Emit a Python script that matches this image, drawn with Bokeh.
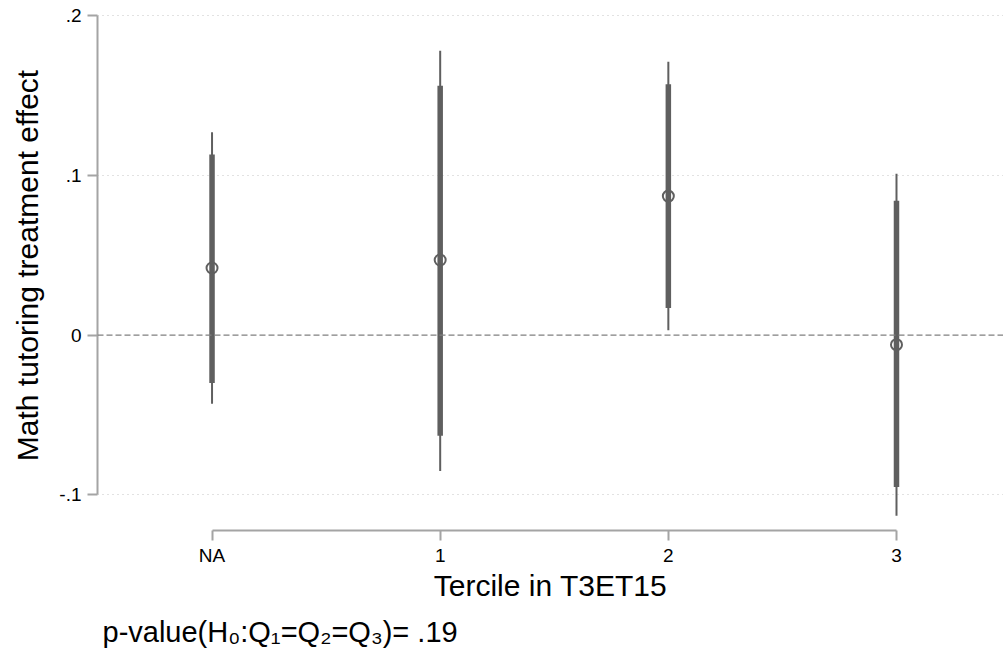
from bokeh.plotting import figure
from bokeh.models import FixedTicker, Range1d, Span, Title, ColumnDataSource
from bokeh.embed import file_html
from bokeh.resources import INLINE

# ---- data ----
groups = ["NA", "1", "2", "3"]
group_pos = [0, 1, 2, 3]
coef = [0.042, 0.047, 0.087, -0.006]
ci_inner_lo = [-0.030, -0.063, 0.017, -0.095]
ci_inner_hi = [0.113, 0.156, 0.157, 0.084]
ci_outer_lo = [-0.043, -0.085, 0.003, -0.113]
ci_outer_hi = [0.127, 0.178, 0.171, 0.101]
y_tick_values = [-0.1, 0, 0.1, 0.2]
y_tick_labels = ["-.1", "0", ".1", ".2"]
y_grid_values = [-0.1, 0.1, 0.2]
x_title = "Tercile in T3ET15"
y_title = "Math tutoring treatment effect"
footnote = "p-value(H\u2080:Q\u2081=Q\u2082=Q\u2083)= .19"

FONT = "Liberation Sans"
BAR = "#5f5f5f"
AXIS = "#a4a4a4"

src = ColumnDataSource(dict(x=group_pos, coef=coef,
                            lo1=ci_inner_lo, hi1=ci_inner_hi,
                            lo2=ci_outer_lo, hi2=ci_outer_hi))

p = figure(width=1003, height=656, output_backend="svg", toolbar_location=None,
           x_range=Range1d(-0.502, 3.469), y_range=Range1d(-0.1223, 0.2094),
           min_border_left=97, min_border_right=0, min_border_top=0,
           min_border_bottom=124)
p.outline_line_color = None
p.background_fill_color = "white"
p.border_fill_color = "white"

# grid
p.xgrid.visible = False
p.ygrid.ticker = FixedTicker(ticks=y_grid_values)
p.ygrid.grid_line_color = "#c4c4c4"
p.ygrid.grid_line_dash = "1 4"
p.ygrid.grid_line_width = 1

# zero line
p.add_layout(Span(location=0, dimension="width", line_color="#808080",
                  line_dash="6 3", line_width=1.3))

# axes
for ax in (p.xaxis[0], p.yaxis[0]):
    ax.axis_line_color = AXIS
    ax.axis_line_width = 2
    ax.major_tick_line_color = AXIS
    ax.major_tick_line_width = 2
    ax.major_tick_out = 10
    ax.major_tick_in = 0
    ax.minor_tick_line_color = None
    ax.major_label_text_font = FONT
    ax.major_label_text_font_size = "19px"
    ax.major_label_text_color = "black"
    ax.axis_label_text_font = FONT
    ax.axis_label_text_font_size = "30px"
    ax.axis_label_text_font_style = "normal"
    ax.axis_label_text_color = "black"

p.yaxis.ticker = FixedTicker(ticks=y_tick_values)
p.yaxis.major_label_overrides = {v: l for v, l in zip(y_tick_values, y_tick_labels)}
p.yaxis.bounds = (min(y_tick_values), max(y_tick_values))
p.yaxis.axis_label = y_title
p.yaxis.major_label_standoff = 6
p.yaxis.axis_label_standoff = 12

p.xaxis.ticker = FixedTicker(ticks=group_pos)
p.xaxis.major_label_overrides = {v: l for v, l in zip(group_pos, groups)}
p.xaxis.bounds = (min(group_pos), max(group_pos))
p.xaxis.axis_label = x_title
p.xaxis.major_label_standoff = 4
p.xaxis.axis_label_standoff = 0

# intervals
p.segment(x0="x", y0="lo2", x1="x", y1="hi2", source=src,
          line_color=BAR, line_width=2)
p.segment(x0="x", y0="lo1", x1="x", y1="hi1", source=src,
          line_color=BAR, line_width=5.5)
p.scatter(x="x", y="coef", source=src, marker="circle", size=11,
          fill_color=None, line_color=BAR, line_width=2)

p.add_layout(Title(text=footnote, align="left", offset=5, standoff=18,
                   text_font=FONT, text_font_size="29px",
                   text_font_style="normal", text_color="black"), "below")

open("out.html", "w").write(file_html(p, INLINE))
